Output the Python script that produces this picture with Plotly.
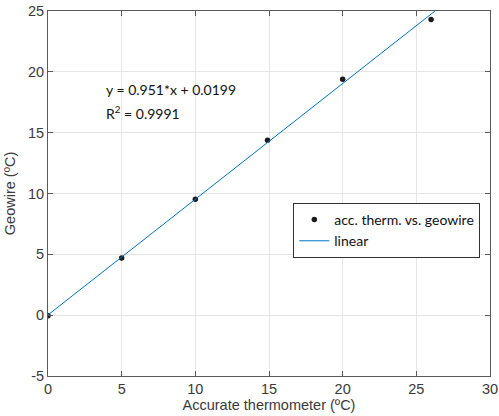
import plotly.graph_objects as go

# data
x_acc = [0, 5, 10, 14.9, 20, 26]
y_geo = [-0.05, 4.7, 9.53, 14.38, 19.4, 24.3]
fit_slope = 0.951
fit_intercept = 0.0199
fit_x = [0, 30]
fit_y = [fit_slope * v + fit_intercept for v in fit_x]
x_ticks = [0, 5, 10, 15, 20, 25, 30]
y_ticks = [-5, 0, 5, 10, 15, 20, 25]
y_ticktext = ["-5", "0", "5", "10", "15", "20", "25"]

axis_color = "#5a5a5a"
tick_font = dict(family="Liberation Sans, Arial, sans-serif", size=14.5, color="#3a3a3a")
cal_font = dict(family="Lato, Open Sans, sans-serif", size=14, color="#111")

fig = go.Figure()
fig.add_trace(go.Scatter(
    x=x_acc, y=y_geo, mode="markers", name="acc. therm. vs. geowire",
    marker=dict(color="#1a1a1a", size=5.5),
))
fig.add_trace(go.Scatter(
    x=fit_x, y=fit_y, mode="lines", name="linear",
    line=dict(color="#0072BD", width=1),
))

fig.update_layout(
    width=499, height=416,
    margin=dict(l=48, r=9, t=11, b=40),
    paper_bgcolor="white", plot_bgcolor="white",
    showlegend=True,
    legend=dict(
        x=0.555, y=0.474, xanchor="left", yanchor="top",
        bgcolor="white", bordercolor="#333", borderwidth=1,
        font=dict(family="Lato, Open Sans, sans-serif", size=14, color="#111"),
        tracegroupgap=0, itemwidth=30,
    ),
    annotations=[
        dict(x=0.127, y=0.784, xref="paper", yref="paper", xanchor="left", yanchor="middle",
             text="y = 0.951*x + 0.0199", showarrow=False, font=cal_font),
        dict(x=0.127, y=0.723, xref="paper", yref="paper", xanchor="left", yanchor="middle",
             text="R<sup>2</sup> = 0.9991", showarrow=False, font=cal_font),
    ],
)
fig.update_xaxes(
    range=[0, 30], tickvals=x_ticks, ticks="inside", ticklen=5, tickcolor=axis_color,
    showline=True, linecolor=axis_color, linewidth=1, mirror="ticks",
    showgrid=True, gridcolor="#e6e6e6", zeroline=False, automargin=False,
    tickfont=tick_font,
    title=dict(text="Accurate thermometer (ºC)", font=tick_font, standoff=0),
)
fig.update_yaxes(
    range=[-5, 25], tickvals=y_ticks, ticktext=y_ticktext, ticks="inside", ticklen=5,
    tickcolor=axis_color,
    showline=True, linecolor=axis_color, linewidth=1, mirror="ticks",
    showgrid=True, gridcolor="#e6e6e6", zeroline=False, automargin=False,
    tickfont=tick_font,
    title=dict(text="Geowire (ºC)", font=tick_font, standoff=8),
)

fig.write_html("out.html", config={"displayModeBar": False},
               post_script="document.body.style.margin='0';")
